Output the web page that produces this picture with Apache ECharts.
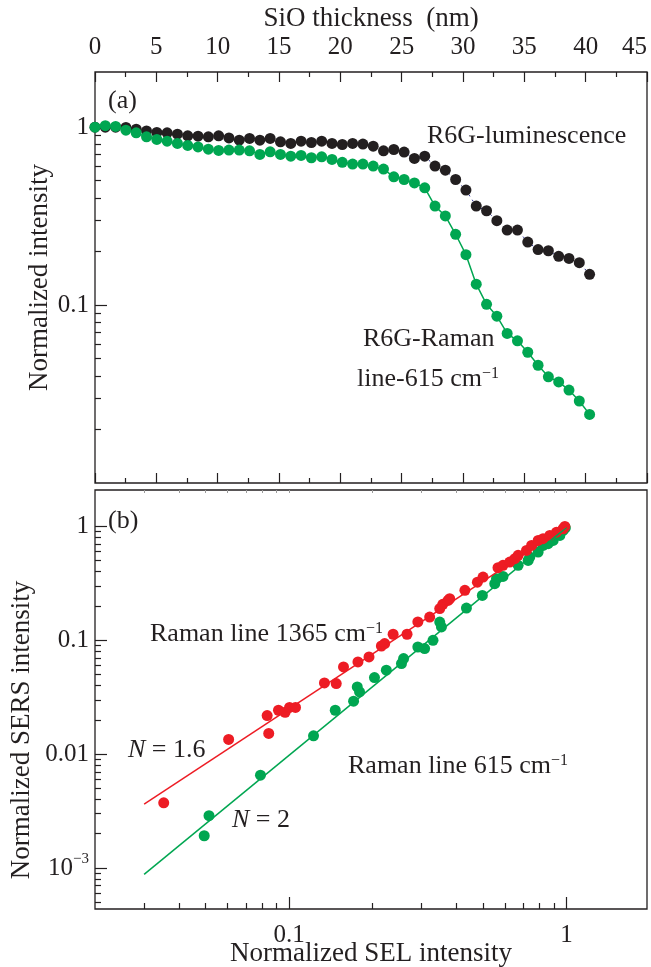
<!DOCTYPE html>
<html>
<head>
<meta charset="utf-8">
<script src="https://cdn.jsdelivr.net/npm/echarts@6/dist/echarts.min.js"></script>
<style>
  html, body { margin: 0; padding: 0; background: #fff; }
  #chart { width: 651px; height: 967px; }
</style>
</head>
<body>
<div id="chart"></div>
<script>
// ---- panel (a): intensity vs SiO thickness ----
const thickness = [0, 0.84, 1.68, 2.52, 3.36, 4.2, 5.04, 5.88, 6.72, 7.56, 8.4, 9.24, 10.08, 10.92, 11.76,
  12.6, 13.44, 14.28, 15.12, 15.96, 16.8, 17.64, 18.48, 19.32, 20.16, 21.0, 21.84, 22.68, 23.52, 24.36,
  25.2, 26.04, 26.88, 27.72, 28.56, 29.4, 30.24, 31.08, 31.92, 32.76, 33.6, 34.44, 35.28, 36.12, 36.96,
  37.8, 38.64, 39.48, 40.32];
const luminescence = [1.0, 1.0, 1.0, 0.996, 0.974, 0.953, 0.934, 0.929, 0.913, 0.894,
  0.890, 0.882, 0.894, 0.870, 0.845, 0.864, 0.845, 0.864, 0.827, 0.810,
  0.834, 0.820, 0.834, 0.810, 0.799, 0.810, 0.803, 0.782, 0.736, 0.749,
  0.724, 0.667, 0.687, 0.604, 0.573, 0.508, 0.443, 0.360, 0.339, 0.298,
  0.264, 0.264, 0.226, 0.205, 0.202, 0.188, 0.183, 0.173, 0.149];
const raman615 = [1.0, 1.02, 1.01, 0.962, 0.929, 0.882, 0.853, 0.834, 0.810, 0.789,
  0.774, 0.752, 0.740, 0.743, 0.743, 0.736, 0.703, 0.727, 0.703, 0.687,
  0.694, 0.673, 0.681, 0.659, 0.634, 0.620, 0.620, 0.604, 0.581, 0.526,
  0.508, 0.486, 0.456, 0.360, 0.317, 0.250, 0.192, 0.131, 0.101, 0.0866,
  0.0693, 0.0630, 0.0543, 0.0459, 0.0395, 0.0370, 0.0333, 0.0289, 0.0243];

// ---- panel (b): SERS vs SEL ----
const selRed = [0.0353, 0.0605, 0.0833, 0.0844, 0.0915, 0.0967, 0.1003, 0.1054, 0.134, 0.1478,
  0.157, 0.177, 0.194, 0.215, 0.221, 0.237, 0.266, 0.291, 0.321, 0.349, 0.358, 0.374, 0.379,
  0.430, 0.477, 0.500, 0.566, 0.590, 0.624, 0.651, 0.669, 0.717, 0.748, 0.790, 0.823, 0.870,
  0.920, 0.972, 0.986];
const sersRed = [0.00374, 0.01346, 0.0218, 0.0152, 0.0243, 0.0233, 0.0257, 0.0257, 0.0422, 0.0417,
  0.0583, 0.0645, 0.0714, 0.0891, 0.0935, 0.113, 0.113, 0.145, 0.160, 0.190, 0.207, 0.224, 0.232,
  0.275, 0.324, 0.359, 0.434, 0.455, 0.486, 0.521, 0.557, 0.616, 0.681, 0.754, 0.780, 0.834,
  0.891, 0.954, 1.0];
const selGreen = [0.0494, 0.0514, 0.0788, 0.1224, 0.1466, 0.1707, 0.176, 0.1794, 0.203, 0.224,
  0.254, 0.2585, 0.291, 0.3078, 0.330, 0.349, 0.354, 0.4355, 0.497, 0.551, 0.559, 0.590, 0.669,
  0.727, 0.737, 0.790, 0.823, 0.858, 0.895, 0.946, 0.972, 0.99];
const sersGreen = [0.00192, 0.00288, 0.00654, 0.0145, 0.0243, 0.0292, 0.0389, 0.0352, 0.0471, 0.0546,
  0.0625, 0.0691, 0.0873, 0.0845, 0.100, 0.1447, 0.131, 0.192, 0.248, 0.314, 0.348, 0.364, 0.455,
  0.503, 0.538, 0.595, 0.681, 0.705, 0.754, 0.834, 0.922, 0.97];
const fitRed = [[0.03, 0.00364], [1, 1.0]];     // N = 1.6
const fitGreen = [[0.03, 0.00088], [1, 0.98]];  // N = 2

// ---- tick values ----
const aYMajor = [0.1, 1];
const aYMinor = [0.02, 0.03, 0.04, 0.05, 0.06, 0.07, 0.08, 0.09, 0.2, 0.3, 0.4, 0.5, 0.6, 0.7, 0.8, 0.9];
const bXMajor = [0.1, 1];
const bXMinor = [0.03, 0.04, 0.05, 0.06, 0.07, 0.08, 0.09, 0.2, 0.3, 0.4, 0.5, 0.6, 0.7, 0.8, 0.9];
const bYMajor = [0.001, 0.01, 0.1, 1];
const bYMinor = [0.0005, 0.0006, 0.0007, 0.0008, 0.0009, 0.002, 0.003, 0.004, 0.005, 0.006, 0.007, 0.008, 0.009,
  0.02, 0.03, 0.04, 0.05, 0.06, 0.07, 0.08, 0.09, 0.2, 0.3, 0.4, 0.5, 0.6, 0.7, 0.8, 0.9];
const logLabels = { '0': '1', '-1': '0.1', '-2': '0.01', '-3': '{b|10}{s|\u22123}' };

const lg = Math.log10;
const ink = '#231f20';
const green = '#00a651';
const red = '#ed1c24';
const serif = 'Liberation Serif';

// axis extents (log10 space for the log panels)
const aYRange = [-2, 0.31];
const bXRange = [-1.7, 0.29];
const bYRange = [-3.36, 0.32];

const chart = echarts.init(document.getElementById('chart'));

const labelFmt = (v) => logLabels[String(Math.round(v))] || '';
const supRich = {
  b: { fontSize: 25, fontFamily: serif, color: ink, lineHeight: 32 },
  s: { fontSize: 15, fontFamily: serif, color: ink, verticalAlign: 'top' },
};
const tickLine = { color: ink, width: 1.2 };

function axis(extra) {
  return Object.assign({
    type: 'value',
    splitLine: { show: false },
    axisLine: { show: false, onZero: false },
    axisTick: { inside: true, lineStyle: tickLine },
    axisLabel: { show: false },
    nameMoveOverlap: false,
  }, extra);
}

function txt(x, y, text, extra) {
  return {
    type: 'text', x: x, y: y, z: 100,
    style: Object.assign({
      text: text, fill: ink, fontFamily: serif, fontSize: 26,
      align: 'left', textAlign: 'left', verticalAlign: 'middle', textVerticalAlign: 'middle',
      rich: {
        s: { fontSize: 16, fontFamily: serif, fill: ink, color: ink, verticalAlign: 'top' },
        i: { fontSize: 26, fontFamily: serif, fontStyle: 'italic', fill: ink, color: ink },
      },
    }, extra || {}),
  };
}

const frameA = { left: 95, top: 72, width: 552, height: 411, outerBoundsMode: 'none', containLabel: false };
const frameB = { left: 95, top: 490, width: 552, height: 419, outerBoundsMode: 'none', containLabel: false };

const option = {
  animation: false,
  backgroundColor: '#fff',
  textStyle: { fontFamily: serif, color: ink },
  grid: [
    Object.assign({ show: true, borderColor: ink, borderWidth: 1.3 }, frameA),
    Object.assign({}, frameA),
    Object.assign({ show: true, borderColor: ink, borderWidth: 1.3 }, frameB),
    Object.assign({}, frameB),
  ],
  xAxis: [
    axis({
      gridIndex: 0, position: 'top', min: 0, max: 45, interval: 5,
      axisTick: { inside: true, length: 10, lineStyle: tickLine },
      minorTick: { show: true, splitNumber: 2, length: 5, lineStyle: tickLine },
      axisLabel: { show: true, fontSize: 25, color: ink, margin: 12, fontFamily: serif, alignMaxLabel: 'right' },
      name: 'SiO thickness  (nm)', nameLocation: 'middle', nameGap: 40,
      nameTextStyle: { fontSize: 27, color: ink, fontFamily: serif },
    }),
    axis({
      gridIndex: 0, position: 'bottom', min: 0, max: 45, interval: 5,
      axisTick: { inside: true, length: 10, lineStyle: tickLine },
      minorTick: { show: true, splitNumber: 2, length: 5, lineStyle: tickLine },
    }),
    axis({ gridIndex: 1, show: false, min: 0, max: 45 }),
    axis({
      gridIndex: 2, position: 'bottom', min: bXRange[0], max: bXRange[1],
      axisTick: { inside: true, length: 12, customValues: bXMajor.map(lg), lineStyle: tickLine },
      axisLabel: { show: true, customValues: bXMajor.map(lg), formatter: labelFmt, fontSize: 25, color: ink, margin: 14, fontFamily: serif },
      name: 'Normalized SEL intensity', nameLocation: 'middle', nameGap: 31,
      nameTextStyle: { fontSize: 27, color: ink, fontFamily: serif },
    }),
    axis({
      gridIndex: 2, position: 'top', min: bXRange[0], max: bXRange[1],
      axisTick: { inside: true, length: 3, customValues: bXMinor.concat(bXMajor).map(lg), lineStyle: { color: '#9a9a9a', width: 1 } },
    }),
    axis({
      gridIndex: 3, position: 'bottom', min: bXRange[0], max: bXRange[1],
      axisTick: { inside: true, length: 6, customValues: bXMinor.map(lg), lineStyle: tickLine },
    }),
  ],
  yAxis: [
    axis({
      gridIndex: 0, position: 'left', min: aYRange[0], max: aYRange[1],
      axisTick: { inside: true, length: 12, customValues: aYMajor.map(lg), lineStyle: tickLine },
      axisLabel: { show: true, customValues: aYMajor.map(lg), formatter: labelFmt, fontSize: 25, color: ink, margin: 6, fontFamily: serif },
      name: 'Normalized intensity', nameLocation: 'middle', nameGap: 42,
      nameTextStyle: { fontSize: 27, color: ink, fontFamily: serif },
    }),
    axis({
      gridIndex: 1, position: 'left', min: aYRange[0], max: aYRange[1],
      axisTick: { inside: true, length: 6, customValues: aYMinor.map(lg), lineStyle: tickLine },
    }),
    axis({
      gridIndex: 2, position: 'left', min: bYRange[0], max: bYRange[1],
      axisTick: { inside: true, length: 12, customValues: bYMajor.map(lg), lineStyle: tickLine },
      axisLabel: { show: true, customValues: bYMajor.map(lg), formatter: labelFmt, fontSize: 25, color: ink, margin: 6, fontFamily: serif, rich: supRich },
    }),
    axis({
      gridIndex: 3, position: 'left', min: bYRange[0], max: bYRange[1],
      axisTick: { inside: true, length: 6, customValues: bYMinor.map(lg), lineStyle: tickLine },
    }),
  ],
  series: [
    {
      type: 'line', name: 'R6G-luminescence', xAxisIndex: 0, yAxisIndex: 0, z: 2,
      data: thickness.map((t, i) => [t, lg(luminescence[i])]),
      symbol: 'circle', symbolSize: 11,
      itemStyle: { color: ink },
      lineStyle: { color: '#2e3192', width: 1, type: [2, 4] },
    },
    {
      type: 'line', name: 'R6G-Raman 615', xAxisIndex: 0, yAxisIndex: 0, z: 3,
      data: thickness.map((t, i) => [t, lg(raman615[i])]),
      symbol: 'circle', symbolSize: 11,
      itemStyle: { color: green },
      lineStyle: { color: green, width: 1.5 },
    },
    {
      type: 'scatter', name: 'Raman line 615', xAxisIndex: 3, yAxisIndex: 2, z: 2,
      data: selGreen.map((x, i) => [lg(x), lg(sersGreen[i])]),
      symbolSize: 11, itemStyle: { color: green, opacity: 1 },
    },
    {
      type: 'scatter', name: 'Raman line 1365', xAxisIndex: 3, yAxisIndex: 2, z: 3,
      data: selRed.map((x, i) => [lg(x), lg(sersRed[i])]),
      symbolSize: 11, itemStyle: { color: red, opacity: 1 },
    },
    {
      type: 'line', name: 'fit N=2', xAxisIndex: 3, yAxisIndex: 2, z: 4,
      data: fitGreen.map((p) => [lg(p[0]), lg(p[1])]),
      symbol: 'none', lineStyle: { color: green, width: 1.5 },
    },
    {
      type: 'line', name: 'fit N=1.6', xAxisIndex: 3, yAxisIndex: 2, z: 4,
      data: fitRed.map((p) => [lg(p[0]), lg(p[1])]),
      symbol: 'none', lineStyle: { color: red, width: 1.5 },
    },
  ],
  graphic: [
    txt(108, 101, '(a)'),
    txt(427, 136, 'R6G-luminescence'),
    txt(363, 339, 'R6G-Raman'),
    txt(357, 379, 'line-615 cm{s|\u22121}'),
    txt(108, 521, '(b)'),
    txt(150, 634, 'Raman line 1365 cm{s|\u22121}'),
    txt(128, 750, '{i|N} = 1.6'),
    txt(348, 766, 'Raman line 615 cm{s|\u22121}'),
    txt(232, 820, '{i|N} = 2'),
  ],
};

// rotated y title of panel (b)
const sersTitle = txt(22, 730, 'Normalized SERS intensity', { align: 'center', textAlign: 'center', fontSize: 27 });
sersTitle.rotation = Math.PI / 2;
option.graphic.push(sersTitle);

chart.setOption(option);
</script>
</body>
</html>
